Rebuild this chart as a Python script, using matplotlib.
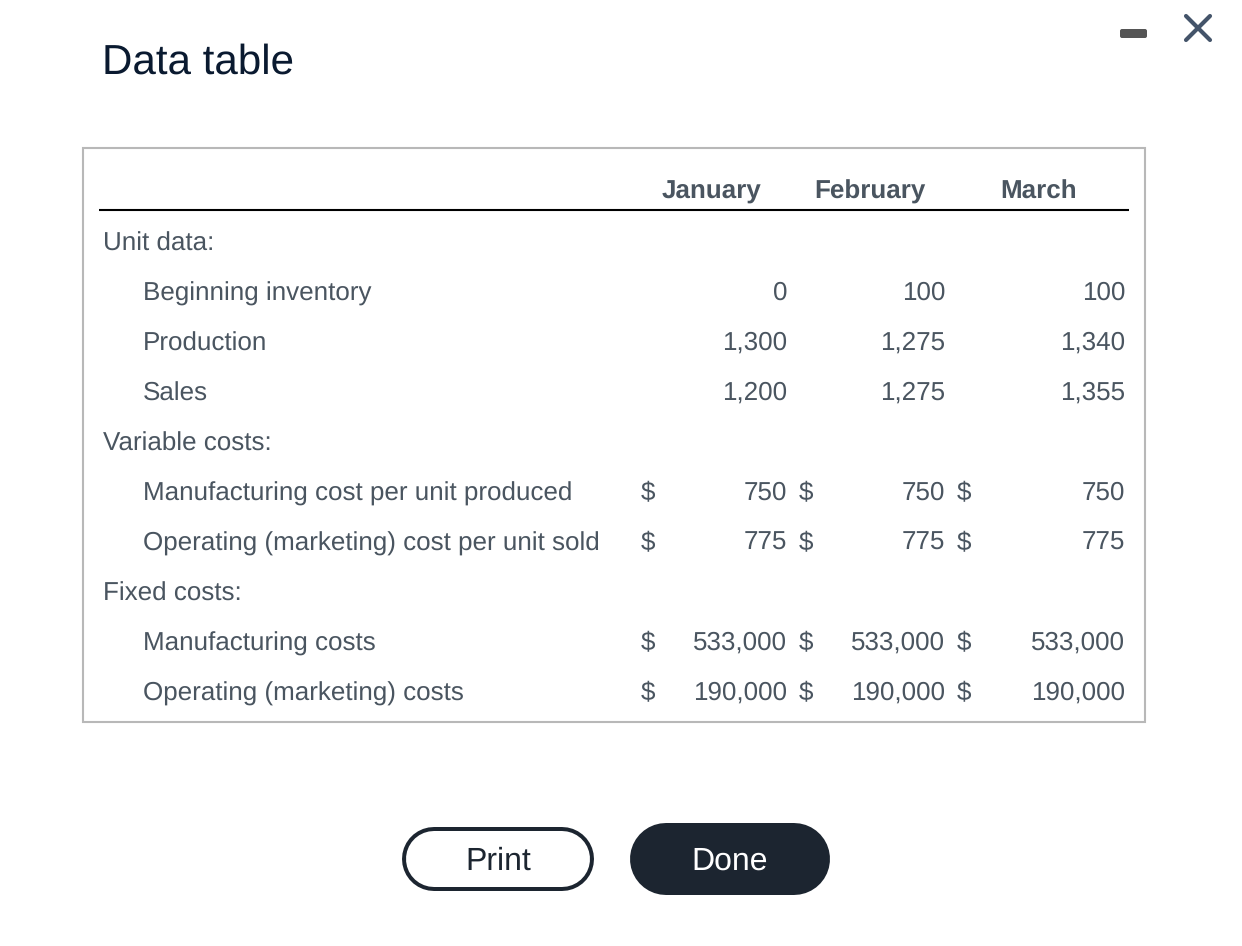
import matplotlib
matplotlib.use("Agg")
import matplotlib.pyplot as plt
from matplotlib.patches import FancyBboxPatch, Rectangle

plt.rcParams['font.family'] = ['Liberation Sans', 'DejaVu Sans']
plt.rcParams['text.hinting'] = 'none'

months = ["January", "February", "March"]
section_unit = "Unit data:"
section_variable = "Variable costs:"
section_fixed = "Fixed costs:"

unit_labels = ["Beginning inventory", "Production", "Sales"]
unit_jan = ["0", "1,300", "1,200"]
unit_feb = ["100", "1,275", "1,275"]
unit_mar = ["100", "1,340", "1,355"]

variable_labels = ["Manufacturing cost per unit produced", "Operating (marketing) cost per unit sold"]
variable_jan = ["750", "775"]
variable_feb = ["750", "775"]
variable_mar = ["750", "775"]

fixed_labels = ["Manufacturing costs", "Operating (marketing) costs"]
fixed_jan = ["533,000", "190,000"]
fixed_feb = ["533,000", "190,000"]
fixed_mar = ["533,000", "190,000"]

text_color = '#4a5560'
dark = '#1c2530'
body_size = 18.7
px = 0.72  # points per pixel at dpi 100

fig = plt.figure(figsize=(12.42, 9.46), dpi=100)
ax = fig.add_axes([0, 0, 1, 1])
ax.set_xlim(0, 1242)
ax.set_ylim(946, 0)
ax.axis('off')

# title and window buttons
ax.text(102, 74, "Data table", fontsize=30.3, color='#0a1a30', va='baseline')
ax.add_patch(FancyBboxPatch((1120, 29), 27, 9, boxstyle="round,pad=0,rounding_size=2",
                            facecolor='#555555', edgecolor='none'))
ax.plot([1186, 1210], [16, 40], color='#44546a', lw=3, solid_capstyle='round')
ax.plot([1210, 1186], [16, 40], color='#44546a', lw=3, solid_capstyle='round')

# table frame and header line
ax.add_patch(Rectangle((83, 148.5), 1062, 573, facecolor='white', edgecolor='#b8b8b8', lw=1.5))
ax.plot([99, 1129], [210, 210], color='black', lw=1.5, solid_capstyle='butt')

for name, x in zip(months, [712, 870, 1039]):
    ax.text(x, 199, name, fontsize=18.7, fontweight='bold', color=text_color, ha='center', va='baseline')


def draw_row(y, label, jan, feb, mar, dollars):
    # labels with descenders land a pixel high, so nudge them down
    ax.text(143, y + 1, label, fontsize=body_size, color=text_color, va='baseline')
    for val, right in zip([jan, feb, mar], [787, 945, 1125]):
        ax.text(right, y, val, fontsize=body_size, color=text_color, ha='right', va='baseline')
    if dollars:
        for left in [641, 799, 957]:
            ax.text(left, y, "$", fontsize=body_size, color=text_color, va='baseline')


ax.text(103, 251, section_unit, fontsize=body_size, color=text_color, va='baseline')
y = 300
for row in zip(unit_labels, unit_jan, unit_feb, unit_mar):
    draw_row(y, *row, False)
    y += 50

ax.text(103, y + 1, section_variable, fontsize=body_size, color=text_color, va='baseline')
y += 50
for row in zip(variable_labels, variable_jan, variable_feb, variable_mar):
    draw_row(y, *row, True)
    y += 50

ax.text(103, y + 1, section_fixed, fontsize=body_size, color=text_color, va='baseline')
y += 50
for row in zip(fixed_labels, fixed_jan, fixed_feb, fixed_mar):
    draw_row(y, *row, True)
    y += 50

# buttons, drawn as thick round-capped lines to get true pill ends
ax.plot([434, 562], [859, 859], color=dark, lw=64 * px, solid_capstyle='round')
ax.plot([434, 562], [859, 859], color='white', lw=56 * px, solid_capstyle='round')
ax.text(498, 870, "Print", fontsize=23, color=dark, ha='center', va='baseline')
ax.plot([666, 794], [859, 859], color=dark, lw=72 * px, solid_capstyle='round')
ax.text(730, 870, "Done", fontsize=23, color='white', ha='center', va='baseline')

fig.savefig("out.png", dpi=100)
